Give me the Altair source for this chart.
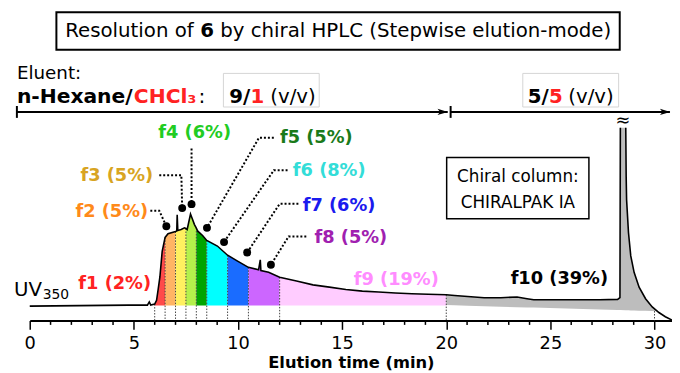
import altair as alt
import numpy as np
import pandas as pd

FONT = "DejaVu Sans"

# ---- chromatogram trace (time in min, UV350 signal in arbitrary units) ----
TIME = [0.0, 2.37, 4.74, 5.65, 5.74, 5.81, 6.0, 6.09, 6.17, 6.25, 6.36, 6.5, 6.64,
        7.0, 7.06, 7.08, 7.11, 7.27, 7.43, 7.5, 7.56, 7.72, 7.91, 8.0, 8.07, 8.30,
        8.5, 9.01, 9.5, 9.96, 10.5, 10.99, 11.07, 11.10, 11.47, 12.0, 12.81, 13.60,
        14.39, 15.18, 15.97, 16.76, 17.55, 18.35, 19.13, 20.0, 20.40, 21.03, 21.82,
        22.62, 23.40, 23.88, 24.20, 25.78, 27.36, 28.23, 28.34, 28.36,
        28.62, 28.64, 28.66, 28.75, 28.86, 29.02, 29.26, 29.57, 29.89, 30.13, 30.21,
        30.52, 30.84]
SIGNAL = [-0.5, 0.0, 0.5, 0.5, 3.7, 0.5, 1.5, 5.3, 17, 29, 55, 69, 72.7,
          75, 75.5, 92, 76, 77, 78.7, 78, 77, 92.7, 82, 78.5, 75.3, 71,
          66, 60.3, 51, 45.3, 38.7, 36.3, 46.3, 35.5, 33.7, 28.7, 25, 21,
          18.7, 16.3, 14.7, 13.7, 12.7, 12, 11.5, 11, 10.3, 9.3, 8,
          8, 8.7, 7, 6, 6, 6, 6.3, 8, 180,
          180, 130, 107, 74, 50.3, 33.7, 18.7, 7, -1.3, -5.6, -7,
          -11.3, -14.7]
PEAK_CUT = [28.36, 28.62]   # the off-scale peak is drawn open at the top

FRACTIONS = ["f1", "f2", "f3", "f4", "f5", "f6", "f7", "f8", "f9", "f10"]
PERCENT = [2, 5, 5, 6, 5, 8, 6, 5, 19, 39]
BOUNDS = [6.0, 6.5, 7.0, 7.5, 8.0, 8.5, 9.5, 10.5, 12.0, 20.0, 30.13]
FILL_COLORS = ["#ff4a4a", "#ffb464", "#fff060", "#b4f04c", "#00a400", "#00ffff",
               "#1a6cff", "#cc66ff", "#ffccff", "#bdbdbd"]
LABEL_COLORS = ["#ff2222", "#ff8a1a", "#d8a422", "#22cc22", "#1a7a1a", "#33ddd8",
                "#1a1aee", "#a020b0", "#ff8cff", "#000000"]
LABEL_T = [4.08, 3.94, 4.18, 7.92, 13.76, 14.38, 14.85, 15.42, 17.6, 25.43]
LABEL_V = [22, 95, 131, 175, 170, 136, 101, 68, 26, 27]

GRAY_BASE_T = [20.0, 30.13]
GRAY_BASE_V = [0.5, -5.6]

CUT_MARKS = [6.0, 6.5, 7.0, 7.5, 8.0, 8.5, 9.5, 10.5, 12.0, 20.0, 30.0]
MAJOR_TICKS = [0, 5, 10, 15, 20, 25, 30]
MINOR_TICKS = [i for i in range(31) if i % 5]

# leader lines (fraction -> dot on the trace)
LEADER_ID = ["f2", "f2", "f2", "f3", "f3", "f3", "f4", "f4", "f5", "f5", "f5",
             "f6", "f6", "f6", "f7", "f7", "f7", "f8", "f8", "f8"]
LEADER_T = [5.79, 6.22, 6.56, 6.22, 7.28, 7.32, 7.77, 7.77, 11.72, 11.01, 8.51,
            12.38, 11.72, 9.33, 12.9, 12.0, 10.44, 13.28, 12.43, 11.58]
LEADER_V = [96, 96, 80.3, 132, 132, 98.7, 159, 102.7, 170, 170, 78.7,
            137, 137, 64.3, 103, 103, 53.7, 70, 70, 41.3]
DOT_T = [6.56, 7.32, 7.77, 8.51, 9.33, 10.44, 11.58]
DOT_V = [80.3, 98.7, 102.7, 78.7, 64.3, 53.7, 41.3]

# ---- scales ----
xs = alt.Scale(domain=[0, 30.84], nice=False, zero=False)
ys = alt.Scale(domain=[-15, 299], nice=False, zero=False)
xaxis = alt.Axis(values=MAJOR_TICKS, title="Elution time (min)", grid=False,
                 domainColor="black", domainWidth=2, tickColor="black", tickWidth=1.5,
                 tickSize=9, labelFont=FONT, labelFontSize=18, labelColor="black",
                 labelPadding=5, labelFlush=False, titleFont=FONT, titleFontSize=16.5,
                 titleFontWeight="bold", titleColor="black", titlePadding=3)
X = alt.X("t:Q", scale=xs, axis=xaxis)
Y = alt.Y("v:Q", scale=ys, axis=None, stack=None)

# ---- fills ----
rows = []
for i, f in enumerate(FRACTIONS):
    a, b = BOUNDS[i], BOUNDS[i + 1]
    for t, v in zip(TIME, SIGNAL):
        if a <= t <= b:
            base = float(np.interp(t, GRAY_BASE_T, GRAY_BASE_V)) if f == "f10" else 0.0
            rows.append({"frac": f, "t": t, "v": v, "v2": base})
fill_df = pd.DataFrame(rows)
fills = alt.Chart(fill_df).mark_area(opacity=1).encode(
    x=X, y=Y, y2="v2:Q",
    color=alt.Color("frac:N", scale=alt.Scale(domain=FRACTIONS, range=FILL_COLORS), legend=None),
    detail="frac:N")

trace_df = pd.DataFrame({"t": TIME, "v": SIGNAL})
trace_df["seg"] = np.where(trace_df["t"] <= PEAK_CUT[0], "a", "b")
trace = alt.Chart(trace_df).mark_line(color="black", strokeWidth=1.6).encode(
    x=X, y=Y, detail="seg:N")

cut_df = pd.DataFrame({"t": CUT_MARKS})
cut_df["v"] = [float(np.interp(c, TIME, SIGNAL)) if c < 20.5 else float(np.interp(c, GRAY_BASE_T, GRAY_BASE_V)) for c in CUT_MARKS]
cut_df["v2"] = -15
cuts = alt.Chart(cut_df).mark_rule(color="#444", strokeWidth=1, strokeDash=[1.5, 1.5]).encode(
    x=X, y=Y, y2="v2:Q")

minor_df = pd.DataFrame({"t": MINOR_TICKS, "v": -15.0, "v2": -19.5})
minor = alt.Chart(minor_df).mark_rule(color="black", strokeWidth=1.5).encode(x=X, y=Y, y2="v2:Q")

lead_df = pd.DataFrame({"id": LEADER_ID, "t": LEADER_T, "v": LEADER_V,
                        "o": list(range(len(LEADER_ID)))})
leaders = alt.Chart(lead_df).mark_line(color="black", strokeWidth=2, strokeDash=[2, 2]).encode(
    x=X, y=Y, detail="id:N", order="o:Q")
dots = alt.Chart(pd.DataFrame({"t": DOT_T, "v": DOT_V})).mark_circle(
    color="black", size=64, opacity=1).encode(x=X, y=Y)

# ---- labels ----
lab_df = pd.DataFrame({"t": LABEL_T, "v": LABEL_V,
                       "text": [f"{f} ({p}%)" for f, p in zip(FRACTIONS, PERCENT)],
                       "color": LABEL_COLORS})


def texts(df, **props):
    return alt.Chart(df).mark_text(baseline="middle", font=FONT, **props).encode(
        x=X, y=Y, text="text:N", color=alt.Color("color:N", scale=None),
        size=alt.Size("size:Q", scale=None))


lab_df["size"] = 18
frac_labels = texts(lab_df, fontWeight="bold", align="center")

# title
TITLE_PARTS = ["Resolution of", "6", "by chiral HPLC (Stepwise elution-mode)"]
title_box = alt.Chart(pd.DataFrame({"t": [1.28], "t2": [28.33], "v": [297], "v2": [259]})).mark_rect(
    fillOpacity=0, stroke="black", strokeWidth=2).encode(x=X, x2="t2:Q", y=Y, y2="v2:Q")
title_a = texts(pd.DataFrame({"t": [7.876], "v": [278], "text": [TITLE_PARTS[0]], "color": ["black"], "size": [20]}), align="right")
title_b = texts(pd.DataFrame({"t": [8.512], "v": [278], "text": [TITLE_PARTS[1]], "color": ["black"], "size": [20]}), align="center", fontWeight="bold")
title_c = texts(pd.DataFrame({"t": [9.143], "v": [278], "text": [TITLE_PARTS[2]], "color": ["black"], "size": [20]}), align="left")

# eluent annotation
bold_left = texts(pd.DataFrame({
    "t": [-0.617, 5.0, 9.584, 10.604, 23.912, 24.932],
    "v": [211, 211, 211, 211, 211, 211],
    "text": ["n-Hexane/", "CHCl₃", "9/", "1", "5/", "5"],
    "color": ["black", "#ff2222", "black", "#ff2222", "black", "#ff2222"],
    "size": [20.5, 20.5, 20, 20, 20, 20]}), align="left", fontWeight="bold")
reg_left = texts(pd.DataFrame({
    "t": [-0.617, 8.1, 11.55, 25.86, -0.759, 0.62],
    "v": [235, 211, 211, 211, 16, 11],
    "text": ["Eluent:", ":", "(v/v)", "(v/v)", "UV", "350"],
    "color": ["black"] * 6,
    "size": [18.5, 20.5, 20, 20, 20, 14]}), align="left")
boxes = alt.Chart(pd.DataFrame({"t": [9.30, 23.675], "t2": [13.90, 28.277],
                                "v": [235, 235], "v2": [201, 201]})).mark_rect(
    fillOpacity=0, stroke="#d4d4d4", strokeWidth=1).encode(x=X, x2="t2:Q", y=Y, y2="v2:Q")
arrows = alt.Chart(pd.DataFrame({"t": [-0.617, 20.21], "t2": [20.07, 30.74], "v": [196, 196]})).mark_rule(
    color="black", strokeWidth=2).encode(x=X, x2="t2:Q", y=Y)
bars = alt.Chart(pd.DataFrame({"t": [-0.617, 20.21], "v": [190, 190], "v2": [202, 202]})).mark_rule(
    color="black", strokeWidth=2).encode(x=X, y=Y, y2="v2:Q")
heads = alt.Chart(pd.DataFrame({"t": [19.83, 30.51], "v": [196, 196]})).mark_point(
    shape="M-1,-0.6L1,0L-1,0.6L-0.5,0Z", filled=True, color="black", size=110, opacity=1).encode(x=X, y=Y)

# column box
col_box = alt.Chart(pd.DataFrame({"t": [20.02], "t2": [26.85], "v": [150], "v2": [88]})).mark_rect(
    fillOpacity=0, stroke="black", strokeWidth=1.5).encode(x=X, x2="t2:Q", y=Y, y2="v2:Q")
col_text = texts(pd.DataFrame({"t": [23.44, 23.44, 28.49], "v": [130, 104, 187],
                               "text": ["Chiral column:", "CHIRALPAK IA", "≈"],
                               "color": ["black"] * 3, "size": [17, 17, 18]}), align="center")

chart = alt.layer(
    fills, cuts, trace, minor, leaders, dots, frac_labels,
    title_box, title_a, title_b, title_c,
    boxes, bold_left, reg_left, arrows, bars, heads, col_box, col_text
).properties(
    width=650, height=314,
    autosize=alt.AutoSizeParams(type="none"),
    padding={"left": 22, "top": 0, "right": 0, "bottom": 51},
    background="white"
).configure_view(stroke=None)

chart.save("out.html", embed_options={"renderer": "svg", "actions": False})
